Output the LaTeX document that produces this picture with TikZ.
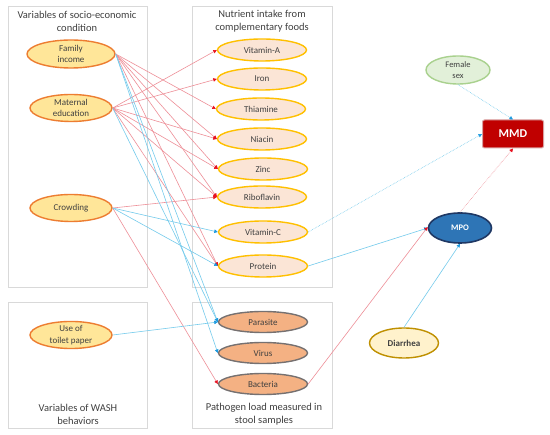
\documentclass[tikz,border=0pt]{standalone}
\usepackage{fontspec}
\setmainfont{Carlito}
\usetikzlibrary{shapes.geometric,arrows.meta}
\definecolor{txt}{HTML}{404040}
\definecolor{panelgray}{HTML}{D9D9D9}
\definecolor{socfill}{HTML}{FFE699}
\definecolor{socdraw}{HTML}{ED7D31}
\definecolor{nutfill}{HTML}{FBE5D6}
\definecolor{nutdraw}{HTML}{FFC000}
\definecolor{patfill}{HTML}{F4B183}
\definecolor{patdraw}{HTML}{767171}
\definecolor{femfill}{HTML}{E2F0D9}
\definecolor{femdraw}{HTML}{A9D18E}
\definecolor{mmdfill}{HTML}{C00000}
\definecolor{mmddraw}{HTML}{D9A0A0}
\definecolor{mpofill}{HTML}{2E75B6}
\definecolor{mpodraw}{HTML}{1F3864}
\definecolor{diafill}{HTML}{FFF2CC}
\definecolor{diadraw}{HTML}{BF9000}
\definecolor{lred}{HTML}{EE8F98}
\definecolor{tipred}{HTML}{E8101E}
\definecolor{lblue}{HTML}{74CBEC}
\definecolor{tipblue}{HTML}{1C9AE0}
\tikzset{
  panel/.style={draw=panelgray, line width=0.9pt, inner sep=0pt},
  ptitle/.style={text=txt, font=\fontsize{10.5}{13}\selectfont, align=center, inner sep=0pt},
  soc/.style={ellipse, draw=socdraw, fill=socfill, line width=1.4pt, minimum width=82pt, minimum height=27pt, inner sep=0pt, text=txt, font=\fontsize{9}{11.5}\selectfont, align=center},
  nut/.style={ellipse, draw=nutdraw, fill=nutfill, line width=1.4pt, minimum width=89pt, minimum height=22pt, inner sep=0pt, text=txt, font=\fontsize{9}{11}\selectfont},
  pat/.style={ellipse, draw=patdraw, fill=patfill, line width=1.4pt, minimum width=89pt, minimum height=21pt, inner sep=0pt, text=txt, font=\fontsize{9}{11}\selectfont},
  redarr/.style={draw=lred, line width=0.6pt, -{Triangle[length=3.5pt,width=3.5pt,color=tipred]}},
  bluearr/.style={draw=lblue, line width=0.6pt, -{Triangle[length=3.5pt,width=3.5pt,color=tipblue]}},
  dotarr/.style={line width=0.6pt, densely dotted},
}
\begin{document}
\begin{tikzpicture}[x=1pt,y=-1pt]
\useasboundingbox[fill=white] (0,0) rectangle (550,435);
% panels
\node[panel, minimum width=139pt, minimum height=281pt] (p1) at (77.5,146.5) {};
\node[panel, minimum width=140pt, minimum height=281pt] (p2) at (262.5,146.5) {};
\node[panel, minimum width=139pt, minimum height=126pt] (p3) at (77.5,365.5) {};
\node[panel, minimum width=140pt, minimum height=126pt] (p4) at (262.5,365.5) {};
\node[ptitle] (t1) at (77,21) {Variables of socio-economic\\condition};
\node[ptitle] (t2) at (262,21) {Nutrient intake from\\complementary foods};
\node[ptitle] (t3) at (78,414) {Variables of WASH\\behaviors};
\node[ptitle] (t4) at (264,414) {Pathogen load measured in\\stool samples};
% left nodes
\node[soc, minimum width=88pt, minimum height=28pt] (fam) at (71,54) {Family\\income};
\node[soc] (mat) at (71,108) {Maternal\\education};
\node[soc] (cro) at (71,208) {Crowding};
\node[soc] (toi) at (71,335) {Use of\\toilet paper};
% nutrients
\node[nut] (vita) at (262,50) {Vitamin-A};
\node[nut] (iron) at (262,79) {Iron};
\node[nut] (thia) at (261,109) {Thiamine};
\node[nut] (niac) at (262,139) {Niacin};
\node[nut] (zinc) at (263,169) {Zinc};
\node[nut] (ribo) at (262,197) {Riboflavin};
\node[nut] (vitc) at (263,232) {Vitamin-C};
\node[nut] (prot) at (263,266) {Protein};
% pathogens
\node[pat] (para) at (263,322) {Parasite};
\node[pat] (viru) at (263,353) {Virus};
\node[pat] (bact) at (263,384) {Bacteria};
% right side
\node[ellipse, draw=femdraw, fill=femfill, line width=1.4pt, minimum width=64pt, minimum height=28pt, inner sep=0pt, text=txt, font=\fontsize{8.5}{10.5}\selectfont, align=center] (fem) at (458,70) {Female\\sex};
\node[draw=mmddraw, fill=mmdfill, line width=1pt, rounded corners=2pt, minimum width=61pt, minimum height=28pt, inner sep=0pt, text=white, font=\fontsize{12}{13}\selectfont\bfseries] (mmd) at (513,134) {MMD};
\node[ellipse, draw=mpodraw, fill=mpofill, line width=1.6pt, minimum width=63pt, minimum height=30pt, inner sep=0pt, text=white, font=\fontsize{8.5}{10}\selectfont\bfseries] (mpo) at (460,228) {MPO};
\node[ellipse, draw=diadraw, fill=diafill, line width=1.4pt, minimum width=69pt, minimum height=30pt, inner sep=0pt, text=txt, font=\fontsize{9}{10}\selectfont\bfseries] (dia) at (404,343) {Diarrhea};
% red arrows from socio-economic variables
\draw[redarr] (fam.east) -- (thia.west);
\draw[redarr] (fam.east) -- (niac.west);
\draw[redarr] (fam.east) -- (zinc.west);
\draw[redarr] (fam.east) -- (ribo.west);
\draw[redarr] (fam.east) -- (prot.west);
\draw[redarr] (mat.east) -- (vita.west);
\draw[redarr] (mat.east) -- (iron.west);
\draw[redarr] (mat.east) -- (niac.west);
\draw[redarr] (mat.east) -- (zinc.west);
\draw[redarr] (mat.east) -- (ribo.west);
\draw[redarr] (mat.east) -- (prot.west);
\draw[redarr] (cro.east) -- (ribo.west);
\draw[redarr] (cro.east) -- (bact.west);
% blue arrows
\draw[bluearr] (fam.east) -- (para.west);
\draw[bluearr] (fam.east) -- (viru.west);
\draw[bluearr] (mat.east) -- (para.west);
\draw[bluearr] (cro.east) -- (vitc.west);
\draw[bluearr] (cro.east) -- (prot.west);
\draw[bluearr] (toi.east) -- (para.west);
% right side connectors
\draw[bluearr] (prot.east) -- (mpo.west);
\draw[redarr] (bact.east) -- ([yshift=1pt]mpo.west);
\draw[bluearr] (dia.north) -- (mpo.south);
\draw[bluearr, dotarr] (vitc.east) -- (mmd.west);
\draw[bluearr, dotarr] (fem.south) -- (mmd.north);
\draw[redarr, dotarr] (mpo.north) -- (mmd.south);
\end{tikzpicture}
\end{document}
